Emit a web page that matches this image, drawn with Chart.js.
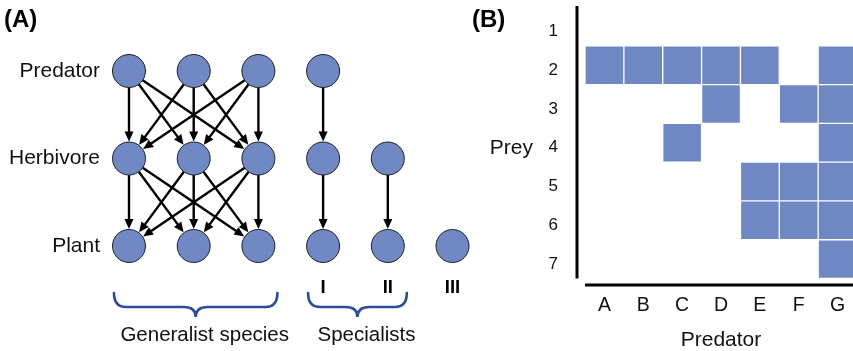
<!DOCTYPE html>
<html>
<head>
<meta charset="utf-8">
<script src="https://cdn.jsdelivr.net/npm/chart.js@4.4.1/dist/chart.umd.min.js"></script>
<style>
  html, body { margin: 0; padding: 0; background: #fff; overflow: hidden; }
  #wrap { position: relative; width: 853px; height: 351px; }
  #boxA { position: absolute; left: 0; top: 0; width: 470px; height: 351px; }
  #boxB { position: absolute; left: 440px; top: 0; width: 420px; height: 351px; }
</style>
</head>
<body>
<div id="wrap">
  <div id="boxA"><canvas id="web" width="470" height="351"></canvas></div>
  <div id="boxB"><canvas id="matrix" width="420" height="351"></canvas></div>
</div>
<script>
// ---- panel A: food web ----
const speciesCols = ['g1', 'g2', 'g3', 'I', 'II', 'III'];
const levels = ['Predator', 'Herbivore', 'Plant'];
const predatorNodes = ['g1', 'g2', 'g3', 'I'];
const herbivoreNodes = ['g1', 'g2', 'g3', 'I', 'II'];
const plantNodes = ['g1', 'g2', 'g3', 'I', 'II', 'III'];
// [consumer, resource]
const predatorLinks = [
    ['g1', 'g1'], ['g1', 'g2'], ['g1', 'g3'],
    ['g2', 'g1'], ['g2', 'g2'], ['g2', 'g3'],
    ['g3', 'g1'], ['g3', 'g2'], ['g3', 'g3'],
    ['I', 'I']
];
const herbivoreLinks = [
    ['g1', 'g1'], ['g1', 'g2'], ['g1', 'g3'],
    ['g2', 'g1'], ['g2', 'g2'], ['g2', 'g3'],
    ['g3', 'g1'], ['g3', 'g2'], ['g3', 'g3'],
    ['I', 'I'], ['II', 'II']
];
const groups = [
    { text: 'Generalist species', first: 'g1', last: 'g3' },
    { text: 'Specialists', first: 'I', last: 'II' }
];

// ---- panel B: predator x prey matrix ----
const predators = ['A', 'B', 'C', 'D', 'E', 'F', 'G'];
const preyRows = [1, 2, 3, 4, 5, 6, 7];
const prey1 = [0, 0, 0, 0, 0, 0, 0];
const prey2 = [1, 1, 1, 1, 1, 0, 1];
const prey3 = [0, 0, 0, 1, 0, 1, 1];
const prey4 = [0, 0, 1, 0, 0, 0, 1];
const prey5 = [0, 0, 0, 0, 1, 1, 1];
const prey6 = [0, 0, 0, 0, 1, 1, 1];
const prey7 = [0, 0, 0, 0, 0, 0, 1];

const FONT = "'Liberation Sans', Arial, sans-serif";
const NODE_FILL = '#7089c5';
const CELL_FILL = '#6f88c4';
const NODE_R = 16.5;

Chart.defaults.font.family = FONT;
Chart.defaults.color = '#111';

/**
 * Arrow between two node centres, trimmed to the circle edges
 */
function drawArrow(ctx, x1, y1, x2, y2) {
    const dx = x2 - x1, dy = y2 - y1;
    const len = Math.hypot(dx, dy);
    const ux = dx / len, uy = dy / len;
    const sx = x1 + ux * NODE_R, sy = y1 + uy * NODE_R;
    const ex = x2 - ux * (NODE_R + 0.5), ey = y2 - uy * (NODE_R + 0.5);
    const head = 10, half = 4.5;
    ctx.beginPath();
    ctx.moveTo(sx, sy);
    ctx.lineTo(ex - ux * head * 0.8, ey - uy * head * 0.8);
    ctx.stroke();
    ctx.beginPath();
    ctx.moveTo(ex, ey);
    ctx.lineTo(ex - ux * head - uy * half, ey - uy * head + ux * half);
    ctx.lineTo(ex - ux * head + uy * half, ey - uy * head - ux * half);
    ctx.closePath();
    ctx.fill();
}

function drawBrace(ctx, x1, x2, yTop, yMid, yTip) {
    const xm = (x1 + x2) / 2, r = 12;
    ctx.beginPath();
    ctx.moveTo(x1, yTop);
    ctx.quadraticCurveTo(x1, yMid, x1 + r, yMid);
    ctx.lineTo(xm - r, yMid);
    ctx.quadraticCurveTo(xm, yMid, xm, yTip);
    ctx.quadraticCurveTo(xm, yMid, xm + r, yMid);
    ctx.lineTo(x2 - r, yMid);
    ctx.quadraticCurveTo(x2, yMid, x2, yTop);
    ctx.stroke();
}

// fixed axis sizes, no label overflow padding
function fixSize(w, h) {
    return function (scale) {
        if (w != null) scale.width = w;
        if (h != null) scale.height = h;
        scale.paddingTop = scale.paddingBottom = scale.paddingLeft = scale.paddingRight = 0;
    };
}

const webDecor = {
    id: 'webDecor',
    beforeDatasetsDraw(chart) {
        const ctx = chart.ctx, xs = chart.scales.x, ys = chart.scales.y;
        const px = (n) => xs.getPixelForValue(speciesCols.indexOf(n));
        const py = (l) => ys.getPixelForValue(levels.indexOf(l));
        ctx.save();
        ctx.strokeStyle = '#000';
        ctx.fillStyle = '#000';
        ctx.lineWidth = 2.4;
        predatorLinks.forEach(([a, b]) => drawArrow(ctx, px(a), py('Predator'), px(b), py('Herbivore')));
        herbivoreLinks.forEach(([a, b]) => drawArrow(ctx, px(a), py('Herbivore'), px(b), py('Plant')));
        ctx.restore();
    },
    afterDraw(chart) {
        const ctx = chart.ctx, xs = chart.scales.x, area = chart.chartArea;
        const px = (n) => xs.getPixelForValue(speciesCols.indexOf(n));
        ctx.save();
        ctx.fillStyle = '#000';
        ctx.font = 'bold 24px ' + FONT;
        ctx.textBaseline = 'middle';
        ctx.textAlign = 'left';
        ctx.fillText('(A)', 4, 20);

        ctx.strokeStyle = '#2f4b9b';
        ctx.lineWidth = 2.6;
        ctx.lineCap = 'round';
        ctx.font = '20.5px ' + FONT;
        ctx.textAlign = 'center';
        ctx.fillStyle = '#111';
        groups.forEach(g => {
            const x1 = px(g.first) - 15, x2 = px(g.last) + 19;
            const yb = area.bottom;
            drawBrace(ctx, x1, x2, yb + 47, yb + 61, yb + 71);
            ctx.fillText(g.text, (x1 + x2) / 2 + 9, yb + 89);
        });
        ctx.restore();
    }
};

function nodeSet(level, nodes) {
    return {
        data: nodes.map(n => ({ x: n, y: level })),
        pointRadius: NODE_R,
        pointHoverRadius: NODE_R,
        backgroundColor: NODE_FILL,
        borderColor: '#1e1e1e',
        borderWidth: 1,
        clip: false
    };
}

new Chart(document.getElementById('web'), {
    type: 'scatter',
    data: {
        datasets: [
            nodeSet('Predator', predatorNodes),
            nodeSet('Herbivore', herbivoreNodes),
            nodeSet('Plant', plantNodes)
        ]
    },
    options: {
        responsive: false,
        animation: false,
        devicePixelRatio: 1,
        layout: { padding: { left: 0, right: 12, top: 71, bottom: 0 } },
        plugins: { legend: { display: false }, tooltip: { enabled: false } },
        scales: {
            x: {
                type: 'category',
                labels: speciesCols,
                offset: false,
                grid: { display: false, drawTicks: false },
                border: { display: false },
                ticks: {
                    padding: 31,
                    color: '#000',
                    maxRotation: 0,
                    autoSkip: false,
                    font: { size: 18.5, weight: 'bold' },
                    callback: function (v) {
                        const lab = this.getLabelForValue(v);
                        return lab.startsWith('g') ? '' : lab;
                    }
                },
                afterFit: fixSize(null, 105)
            },
            y: {
                type: 'category',
                labels: levels,
                offset: false,
                grid: { display: false, drawTicks: false },
                border: { display: false },
                ticks: { padding: 29, color: '#111', font: { size: 21 } },
                afterFit: fixSize(129, null)
            }
        }
    },
    plugins: [webDecor]
});

// ---- panel B ----
const matrixDecor = {
    id: 'matrixDecor',
    afterDraw(chart) {
        const ctx = chart.ctx, area = chart.chartArea, ys = chart.scales.y;
        ctx.save();
        ctx.strokeStyle = '#000';
        ctx.lineWidth = 3;
        ctx.beginPath();
        ctx.moveTo(area.left - 8, area.top - 1);
        ctx.lineTo(area.left - 8, area.bottom);
        ctx.stroke();
        ctx.beginPath();
        ctx.moveTo(area.left, area.bottom + 6.5);
        ctx.lineTo(chart.width, area.bottom + 6.5);
        ctx.stroke();

        ctx.fillStyle = '#000';
        ctx.font = 'bold 24px ' + FONT;
        ctx.textBaseline = 'middle';
        ctx.textAlign = 'left';
        ctx.fillText('(B)', 32, 20);

        ctx.fillStyle = '#111';
        ctx.font = '21px ' + FONT;
        ctx.textAlign = 'right';
        ctx.fillText('Prey', area.left - 52, ys.getPixelForValue(4) + 5);
        ctx.textAlign = 'center';
        ctx.fillText('Predator', (area.left + area.right) / 2, area.bottom + 62);
        ctx.restore();
    }
};

const preyMatrix = [prey1, prey2, prey3, prey4, prey5, prey6, prey7];

new Chart(document.getElementById('matrix'), {
    type: 'bar',
    data: {
        labels: predators,
        datasets: preyMatrix.map((row, i) => ({
            data: row.map(v => v ? [preyRows[i] - 0.5, preyRows[i] + 0.5] : null),
            backgroundColor: CELL_FILL,
            borderColor: 'rgba(255,255,255,0.1)',
            borderWidth: 1,
            borderSkipped: false,
            barPercentage: 1,
            categoryPercentage: 1
        }))
    },
    options: {
        responsive: false,
        animation: false,
        devicePixelRatio: 1,
        layout: { padding: { left: 0, right: 3, top: 7, bottom: 0 } },
        plugins: { legend: { display: false }, tooltip: { enabled: false } },
        datasets: { bar: { grouped: false } },
        scales: {
            x: {
                grid: { display: false, drawTicks: false },
                border: { display: false },
                ticks: { padding: 15, color: '#111', maxRotation: 0, font: { size: 19.5 } },
                afterFit: fixSize(null, 72.5)
            },
            y: {
                min: 0.5,
                max: 7.5,
                reverse: true,
                grid: { display: false, drawTicks: false },
                border: { display: false },
                ticks: { padding: 27, labelOffset: 5, color: '#111', font: { size: 17 } },
                afterBuildTicks(scale) { scale.ticks = preyRows.map(v => ({ value: v })); },
                afterFit: fixSize(145, null)
            }
        }
    },
    plugins: [matrixDecor]
});
</script>
</body>
</html>
